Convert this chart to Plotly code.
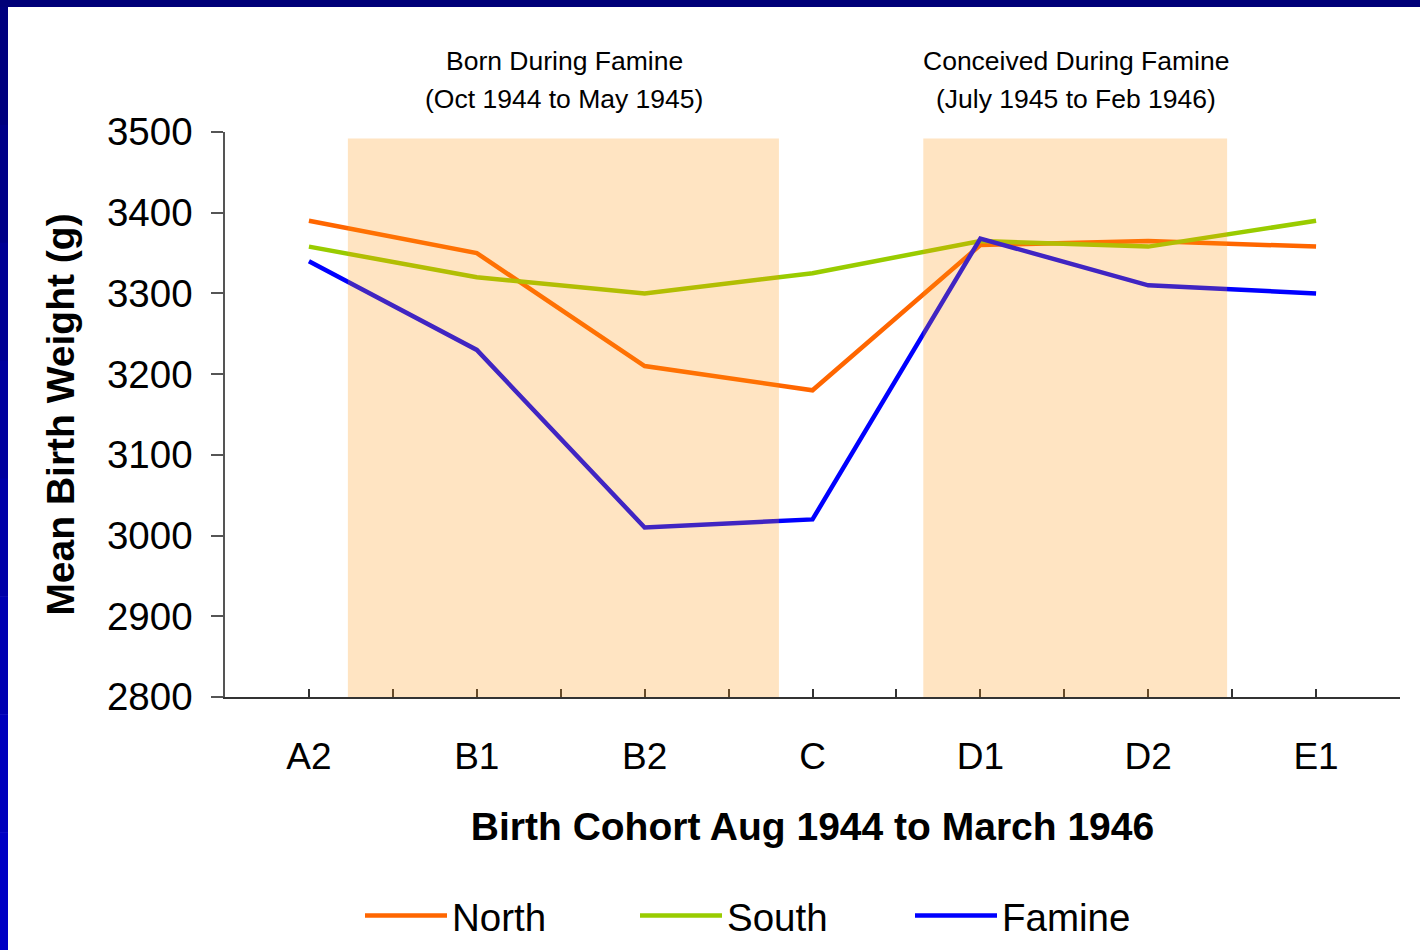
import plotly.graph_objects as go

categories = ["A2", "B1", "B2", "C", "D1", "D2", "E1"]
north = [3390, 3350, 3210, 3180, 3360, 3365, 3358]
south = [3358, 3320, 3300, 3325, 3365, 3358, 3390]
famine = [3340, 3230, 3010, 3020, 3368, 3310, 3300]
series_names = ["North", "South", "Famine"]
series_colors = ["#FF6600", "#99CC00", "#0000FF"]
y_ticks = [2800, 2900, 3000, 3100, 3200, 3300, 3400, 3500]

W, H = 1420, 950
ML, MR, MT, MB = 225, 20, 132, 253
FONT = "Arial, Liberation Sans, sans-serif"

xpos = list(range(len(categories)))
fig = go.Figure()
for name, vals, col in zip(series_names, [north, south, famine], series_colors):
    fig.add_trace(go.Scatter(x=xpos, y=vals, name=name, mode="lines",
                             line=dict(color=col, width=4.5)))

# shaded famine periods (drawn above lines, translucent)
for x0, x1 in [(0.232, 2.80), (3.66, 5.47)]:
    fig.add_shape(type="rect", xref="x", yref="y", x0=x0, x1=x1, y0=2800, y1=3492,
                  fillcolor="rgb(255,147,11)", opacity=0.25, line_width=0, layer="above")

def px_x(p):
    return (p - ML) / (W - ML - MR)

def px_y(p):
    return 1 - (p - MT) / (H - MT - MB)

# navy frame on top and left
fig.add_shape(type="rect", xref="paper", yref="paper", x0=px_x(0), x1=px_x(W),
              y0=px_y(0), y1=px_y(7), fillcolor="#000078", line_width=0, layer="below")
left_cols = ["#00007E", "#000088", "#000094", "#00009E", "#0000A8", "#0000B2", "#0000BC", "#0000C4"]
seg = (H - 7) / len(left_cols)
for i, c in enumerate(left_cols):
    fig.add_shape(type="rect", xref="paper", yref="paper", x0=px_x(0), x1=px_x(8),
                  y0=px_y(7 + (i + 1) * seg + 0.5), y1=px_y(7 + i * seg),
                  fillcolor=c, line_width=0, layer="below")

annots = [
    (564, 61, "Born During Famine"),
    (564, 99, "(Oct 1944 to May 1945)"),
    (1076, 61, "Conceived During Famine"),
    (1076, 99, "(July 1945 to Feb 1946)"),
]
for x, y, t in annots:
    fig.add_annotation(xref="paper", yref="paper", x=px_x(x), y=px_y(y), text=t,
                       showarrow=False, xanchor="center", yanchor="middle",
                       font=dict(family=FONT, size=26.5, color="black"))

fig.update_layout(
    width=W, height=H,
    margin=dict(l=ML, r=MR, t=MT, b=MB, autoexpand=False),
    paper_bgcolor="white", plot_bgcolor="white",
    font=dict(family=FONT, color="black"),
    showlegend=True,
    legend=dict(orientation="h", x=px_x(360), y=px_y(916), xanchor="left", yanchor="middle",
                font=dict(family=FONT, size=38.5, color="black"),
                entrywidth=178, entrywidthmode="pixels", itemwidth=82, bgcolor="rgba(0,0,0,0)"),
    xaxis=dict(range=[-0.5, 6.5], tickmode="array", tickvals=xpos, ticktext=categories,
               showgrid=False, zeroline=False, showline=True, linecolor="#333333", linewidth=1.5,
               ticks="inside", ticklen=8, tickcolor="#333333", tickwidth=1.5,
               minor=dict(tickmode="array", tickvals=[i + 0.5 for i in range(-1, 7)],
                          ticks="inside", ticklen=8, tickcolor="#333333", tickwidth=1.5),
               tickfont=dict(family=FONT, size=37, color="black"), ticklabelstandoff=26,
               automargin=False,
               title=dict(text="<b>Birth Cohort Aug 1944 to March 1946</b>",
                          font=dict(family=FONT, size=39, color="black"), standoff=37)),
    yaxis=dict(range=[2800, 3500], tickmode="array", tickvals=y_ticks,
               showgrid=False, zeroline=False, showline=True, linecolor="#555555", linewidth=1.5,
               ticks="outside", ticklen=12, tickcolor="#555555", tickwidth=1.5,
               tickfont=dict(family=FONT, size=38.5, color="black"), ticklabelstandoff=11,
               automargin=False,
               title=dict(text="<b>Mean Birth Weight (g)</b>",
                          font=dict(family=FONT, size=39, color="black"), standoff=20)),
)

fig.write_html("out.html", config={"displayModeBar": False},
               post_script="document.body.style.margin='0';document.body.style.overflow='hidden';")
